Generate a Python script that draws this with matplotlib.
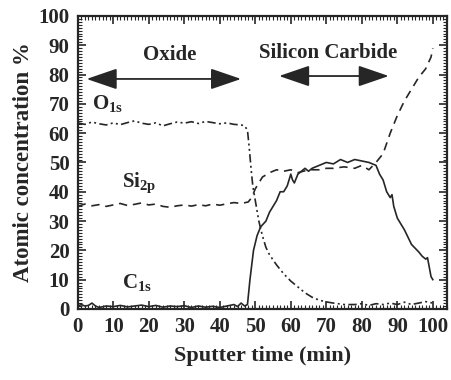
import matplotlib
matplotlib.use('Agg')
import matplotlib.pyplot as plt
from matplotlib.ticker import MultipleLocator

plt.rcParams['font.family'] = 'Liberation Serif'
plt.rcParams['font.weight'] = 'bold'
plt.rcParams['axes.labelweight'] = 'bold'
plt.rcParams['mathtext.fontset'] = 'custom'
plt.rcParams['mathtext.rm'] = 'Liberation Serif:bold'
plt.rcParams['mathtext.it'] = 'Liberation Serif:bold'
plt.rcParams['mathtext.bf'] = 'Liberation Serif:bold'

# O1s (dash-dot-dot)
o_t = [0, 2, 4, 6, 8, 10, 12, 14, 16, 18, 20, 22, 24, 26, 28, 30, 32, 34, 36, 38, 40, 42, 44, 46, 47,
       47.8, 48.3, 48.8, 49.3, 50, 51, 52, 53, 54, 56, 58, 60, 62, 64, 66, 68, 70, 72, 75, 78, 80, 82,
       84, 86, 88, 90, 92, 94, 96, 98, 100]
o_v = [63.5, 63, 63.8, 63.2, 62.8, 63.5, 62.9, 63.6, 64.2, 63.4, 63, 63.5, 62.5, 63.2, 63.8, 63.4,
       63.9, 63.3, 64, 63.6, 63.2, 63.5, 63, 62.8, 62.5, 61, 55, 48, 42, 37, 30, 25, 21, 18.5, 15,
       12, 9.5, 7.5, 5.5, 4, 3, 2.4, 2, 1.5, 1.5, 1.8, 1.2, 1.8, 1.5, 2, 1.5, 2.3, 1.5, 2, 2.5, 2]

# Si2p (dashed)
si_t = [0, 2, 4, 6, 8, 10, 12, 14, 16, 18, 20, 22, 24, 26, 28, 30, 32, 34, 36, 38, 40, 42, 44, 46, 48,
        49, 50, 52, 54, 56, 58, 60, 62, 65, 68, 70, 72, 75, 78, 80, 82, 84, 86, 88, 90, 92, 94, 96,
        98, 99.5, 100]
si_v = [35, 35.8, 35.2, 35.6, 35, 35.5, 36, 35.3, 35.7, 36.2, 35.5, 35.8, 35, 34.7, 35.2, 35.5,
        35.1, 35.6, 35.2, 35.8, 35.4, 35.9, 36.3, 36, 36.5, 38, 41, 45, 46.5, 47.5, 47, 47.5, 46.5,
        47.5, 47.5, 48, 48, 48.5, 48, 49, 47.5, 50, 53, 60, 66, 71, 75, 79, 82, 86, 89]

# C1s (solid)
c_t = [0, 1, 2, 3, 4, 5, 6, 8, 10, 12, 14, 16, 18, 20, 22, 24, 26, 28, 30, 32, 34, 36, 38, 40, 42, 44,
       45, 46, 47, 47.8, 48.5, 49.5, 50.5, 51.5, 53, 54, 55, 56, 57, 58, 59, 60, 60.5, 61, 62, 63,
       64, 65, 66, 68, 70, 72, 74, 76, 78, 80, 82, 84, 85, 86, 87, 88, 88.5, 89, 90, 92, 94, 96, 97,
       98, 98.5, 99.5, 100]
c_v = [1, 1.5, 1, 1.2, 2, 1, 0.5, 1, 0.8, 1.2, 0.7, 1, 1.3, 0.8, 1.2, 0.6, 1, 0.8, 1.1, 0.5, 1,
       0.6, 0.9, 0.5, 1, 1.5, 0.8, 2, 1, 1.5, 10, 20, 25, 28, 30, 33, 35, 37, 40, 40, 42, 46, 44, 43,
       46, 47, 48, 47, 48, 49, 50, 49.5, 51, 50, 51, 50.5, 50, 49, 46, 44, 40, 38, 39, 35, 31, 27,
       22, 19.5, 18, 17, 17.5, 11, 10]

ink = '#262626'

fig = plt.figure(figsize=(4.52, 3.80), dpi=100)
ax = fig.add_axes([0.172, 0.187, 0.817, 0.771])

ax.plot(o_t, o_v, color=ink, lw=1.2, linestyle=(0, (5, 2, 1.2, 2, 1.2, 2)))
ax.plot(si_t, si_v, color=ink, lw=1.2, linestyle=(0, (5, 3.5)))
ax.plot(c_t, c_v, color=ink, lw=1.2)

ax.set_xlim(0, 104)
ax.set_ylim(0, 100)
ax.xaxis.set_major_locator(MultipleLocator(10))
ax.xaxis.set_minor_locator(MultipleLocator(1))
ax.yaxis.set_major_locator(MultipleLocator(10))
ax.yaxis.set_minor_locator(MultipleLocator(1))
ax.tick_params(which='both', direction='in', top=True, right=True, colors=ink)
ax.tick_params(which='major', length=6, width=1.2, labelsize=15, pad=6)
ax.tick_params(which='minor', length=3, width=0.8)
for s in ax.spines.values():
    s.set_linewidth(1.6)
    s.set_color(ink)

ax.set_xlabel('Sputter time (min)', fontsize=16, color=ink, labelpad=6)
ax.set_ylabel('Atomic concentration %', fontsize=16.5, color=ink, labelpad=3)

ax.text(25.8, 86.7, 'Oxide', fontsize=15, ha='center', va='center', color=ink)
ax.text(70.6, 87.3, 'Silicon Carbide', fontsize=15, ha='center', va='center', color=ink)
arrow = dict(arrowstyle='<|-|>,head_length=1.9,head_width=0.65', mutation_scale=10,
             color=ink, lw=1.3, shrinkA=0, shrinkB=0)
ax.annotate('', xy=(46, 78.5), xytext=(2.5, 78.5), arrowprops=arrow)
ax.annotate('', xy=(87.6, 79.5), xytext=(56.7, 79.5), arrowprops=arrow)

ax.text(4, 70, r'O$_{\mathrm{1s}}$', fontsize=15, color=ink, va='center')
ax.text(12.5, 43, r'Si$_{\mathrm{2p}}$', fontsize=15, color=ink, va='center')
ax.text(12.5, 9, r'C$_{\mathrm{1s}}$', fontsize=15, color=ink, va='center')

fig.savefig('out.png', dpi=100)
